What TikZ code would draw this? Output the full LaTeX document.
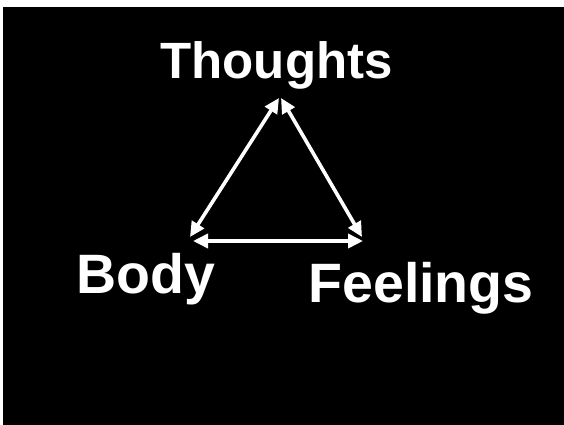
\documentclass[tikz,border=0pt]{standalone}
\usepackage{fontspec}
\setmainfont{Liberation Sans}
\usetikzlibrary{arrows.meta}
\begin{document}
\begin{tikzpicture}[x=1pt,y=-1pt,
  lbl/.style={text=white,inner sep=0pt,anchor=base,font=\bfseries\fontsize{55.5}{62}\selectfont},
  conn/.style={draw=white,line width=3.6pt,{Triangle[length=15pt,width=14pt]}-{Triangle[length=15pt,width=14pt]}}]
\useasboundingbox (0,0) rectangle (564,425);
\fill[white] (0,0) rectangle (564,425);
\fill[black] (3,7) rectangle (564,425);
\node[lbl,font=\bfseries\fontsize{51}{57}\selectfont] (thoughts) at (276.5,79) {Thoughts};
\node[lbl] (body) at (146,293) {Body};
\node[lbl] (feelings) at (421,302) {Feelings};
\coordinate (tl) at (279,98);
\coordinate (tr) at (281,98);
\coordinate (bl) at (190,237);
\coordinate (br) at (362,237);
\coordinate (hl) at (193,241);
\coordinate (hr) at (363,241);
\draw[conn] (tl) -- (bl);
\draw[conn] (tr) -- (br);
\draw[conn] (hl) -- (hr);
\end{tikzpicture}
\end{document}
